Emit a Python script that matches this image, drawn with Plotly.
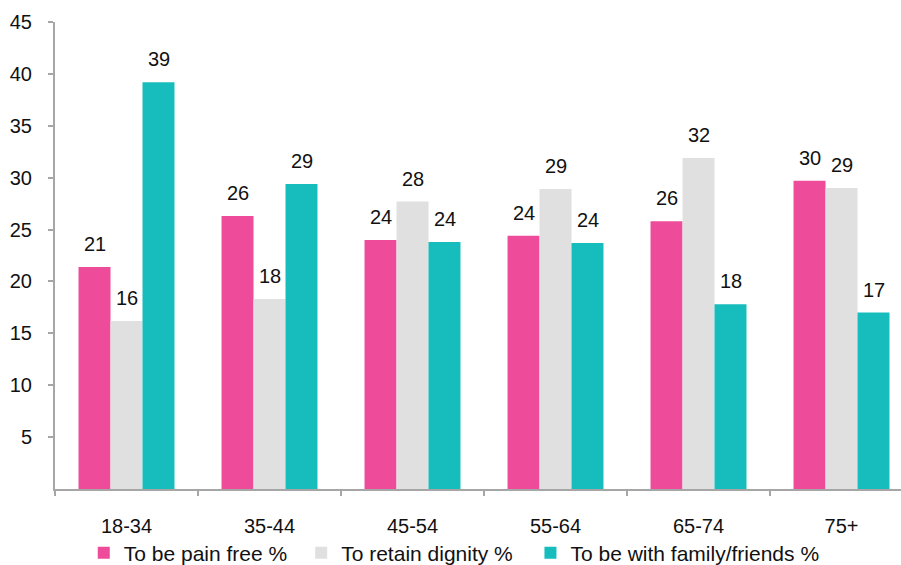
import plotly.graph_objects as go

# Age bands on the x axis
age_groups = ["18-34", "35-44", "45-54", "55-64", "65-74", "75+"]

# Share of respondents (%) naming each priority
pain_free = [21.4, 26.3, 24.0, 24.4, 25.8, 29.7]
retain_dignity = [16.2, 18.3, 27.7, 28.9, 31.9, 29.0]
with_family = [39.2, 29.4, 23.8, 23.7, 17.8, 17.0]

series_names = ["To be pain free %", "To retain dignity %", "To be with family/friends %"]
series_colors = ["#EE4B9A", "#E0E0E0", "#17BDBD"]
y_ticks = [5, 10, 15, 20, 25, 30, 35, 40, 45]

FONT = "Liberation Sans, Arial, Helvetica, sans-serif"
TEXT_COLOR = "#111111"
BAR_PX = 32  # width of one bar in pixels (143 px per category)

# Each series gets its own legend box so the three entries can be spaced freely
legend_ids = ["legend", "legend2", "legend3"]
legend_x = [0.034, 0.291, 0.562]

fig = go.Figure()
all_series = [pain_free, retain_dignity, with_family]
for name, values, color, lg in zip(series_names, all_series, series_colors, legend_ids):
    fig.add_trace(go.Bar(
        x=age_groups, y=values, name=name, legend=lg,
        marker=dict(color=color, line=dict(width=0)),
    ))

# Value labels above each bar, rounded to whole percentages
for i, values in enumerate(all_series):
    for cat, v in zip(age_groups, values):
        fig.add_annotation(
            x=cat, y=v, text=f"{v:.0f}", showarrow=False,
            xshift=(i - 1) * BAR_PX, yshift=10, yanchor="bottom",
            font=dict(family=FONT, size=20, color=TEXT_COLOR),
        )

legend_style = dict(
    orientation="h", xanchor="left", y=-0.137, yanchor="middle",
    font=dict(family=FONT, size=21, color=TEXT_COLOR),
    itemwidth=30, bgcolor="rgba(0,0,0,0)",
)

fig.update_layout(
    width=901, height=565,
    margin=dict(l=55, r=0, t=22, b=76, autoexpand=False),
    paper_bgcolor="white", plot_bgcolor="white",
    barmode="group", bargap=0.329, bargroupgap=0,
    font=dict(family=FONT, size=20, color=TEXT_COLOR),
    showlegend=True,
    legend=dict(x=legend_x[0], **legend_style),
    legend2=dict(x=legend_x[1], **legend_style),
    legend3=dict(x=legend_x[2], **legend_style),
    xaxis=dict(
        range=[-0.5, 5.416], showgrid=False, zeroline=False,
        showline=True, linecolor="#A6A6A6", linewidth=2,
        ticks="outside", tickson="boundaries", ticklen=5, tickcolor="#A6A6A6", tickwidth=2,
        ticklabelstandoff=18,
        tickfont=dict(family=FONT, size=20, color=TEXT_COLOR),
    ),
    yaxis=dict(
        range=[0, 45], tickvals=y_ticks, showgrid=False, zeroline=False,
        showline=True, linecolor="#A6A6A6", linewidth=2,
        ticks="outside", ticklen=5, tickcolor="#A6A6A6", tickwidth=2,
        ticklabelstandoff=12,
        tickfont=dict(family=FONT, size=20, color=TEXT_COLOR),
    ),
)

fig.write_html("out.html")
